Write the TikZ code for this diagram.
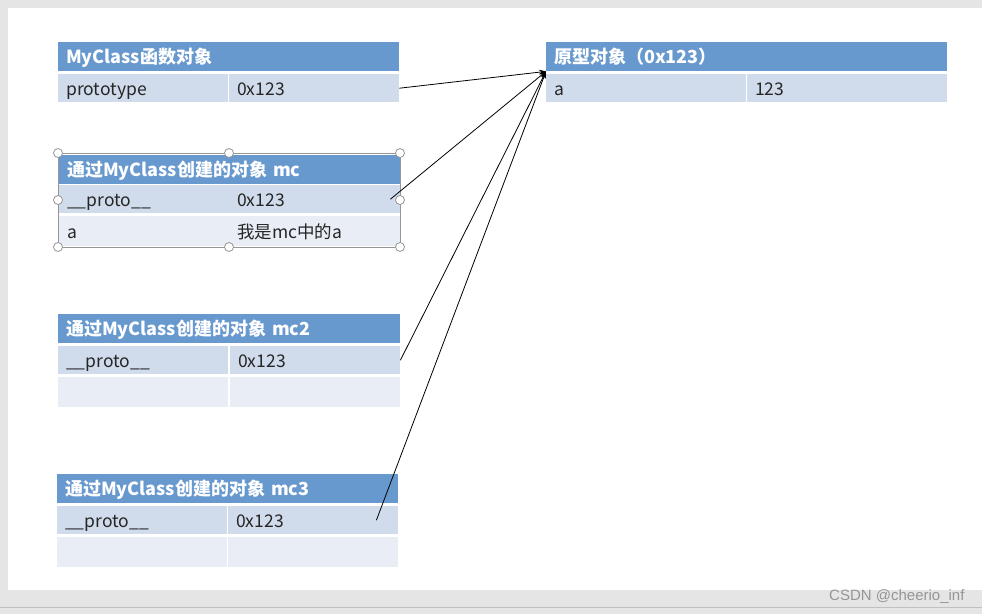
\documentclass[tikz,border=0pt]{standalone}
\usepackage{fontspec}
\setmainfont{Noto Sans CJK SC}
\newfontfamily\wmfont{Liberation Sans}
\usetikzlibrary{arrows.meta}

\definecolor{pagegray}{RGB}{229,229,229}
\definecolor{headblue}{RGB}{104,153,206}
\definecolor{rowblue}{RGB}{208,219,235}
\definecolor{rowpale}{RGB}{232,237,246}
\definecolor{textdark}{RGB}{38,38,38}
\definecolor{framegray}{RGB}{150,150,150}

\tikzset{
  cell/.style={anchor=north west, inner xsep=8pt, inner ysep=0pt, align=left,
    text height=14pt, text depth=0pt,
    font=\fontsize{17.5}{20}\selectfont, text=textdark},
  head/.style={cell, fill=headblue, text=white, minimum height=29pt,
    font=\bfseries\fontsize{18}{20}\selectfont},
  rowa/.style={cell, fill=rowblue, minimum height=28pt},
  rowb/.style={cell, fill=rowpale, minimum height=30pt},
  link/.style={-{Stealth[length=7pt,width=5pt]}, line width=0.8pt, black},
  handle/.style={circle, draw=framegray, fill=white, line width=0.8pt,
    minimum size=9pt, inner sep=0pt}
}

\begin{document}
\begin{tikzpicture}[x=1pt,y=-1pt]
  \useasboundingbox (0,0) rectangle (982,614);
  % page and slide
  \fill[pagegray] (0,0) rectangle (982,614);
  \fill[white] (8,8) rectangle (982,590);
  \draw[framegray!60, line width=0.8pt] (0,607) -- (982,607);

  % MyClass function object
  \node[head, text width=325pt] (fn-h) at (58,42) {MyClass函数对象};
  \node[rowa, text width=154pt] (fn-k1) at (58,74) {prototype};
  \node[rowa, text width=154pt] (fn-v1) at (229,74) {0x123};

  % prototype object
  \node[head, text width=385pt] (proto-h) at (546,42) {原型对象（0x123）};
  \node[rowa, text width=184pt] (proto-k1) at (546,74) {a};
  \node[rowa, text width=184pt] (proto-v1) at (747,74) {123};

  % object mc (selected)
  \node[head, text width=325pt] (mc-h) at (59,155) {通过MyClass创建的对象 mc};
  \node[rowa, text width=154pt] (mc-k1) at (59,185) {\_\_proto\_\_};
  \node[rowa, text width=155pt] (mc-v1) at (229,185) {0x123};
  \node[rowb, text width=154pt] (mc-k2) at (59,216) {a};
  \node[rowb, text width=155pt] (mc-v2) at (229,216) {我是mc中的a};
  \draw[framegray, line width=0.8pt] (58,153) rectangle (400,247);
  \foreach \hx/\hy [count=\i] in {58/153,229/153,400/153,58/200,400/200,58/247,229/247,400/247}
    \node[handle] (hd\i) at (\hx,\hy) {};

  % object mc2
  \node[head, text width=326pt] (mc2-h) at (58,314) {通过MyClass创建的对象 mc2};
  \node[rowa, text width=154pt] (mc2-k1) at (58,346) {\_\_proto\_\_};
  \node[rowa, text width=154pt] (mc2-v1) at (230,346) {0x123};
  \node[rowb, text width=154pt] (mc2-k2) at (58,377) {};
  \node[rowb, text width=154pt] (mc2-v2) at (230,377) {};

  % object mc3
  \node[head, text width=325pt] (mc3-h) at (57,474) {通过MyClass创建的对象 mc3};
  \node[rowa, text width=154pt] (mc3-k1) at (57,506) {\_\_proto\_\_};
  \node[rowa, text width=154pt] (mc3-v1) at (228,506) {0x123};
  \node[rowb, text width=154pt] (mc3-k2) at (57,537) {};
  \node[rowb, text width=154pt] (mc3-v2) at (228,537) {};

  % links to the prototype
  \draw[link] (fn-v1.east) -- (proto-h.south west);
  \draw[link] ([xshift=-10pt]mc-v1.east) -- (proto-h.south west);
  \draw[link] (mc2-v1.east) -- (proto-h.south west);
  \draw[link] ([xshift=-22pt]mc3-v1.east) -- (proto-h.south west);

  % watermark
  \node[anchor=east, font=\wmfont\fontsize{15}{17}\selectfont, text=framegray] (mark) at (968,597) {CSDN @cheerio\_inf};
\end{tikzpicture}
\end{document}
